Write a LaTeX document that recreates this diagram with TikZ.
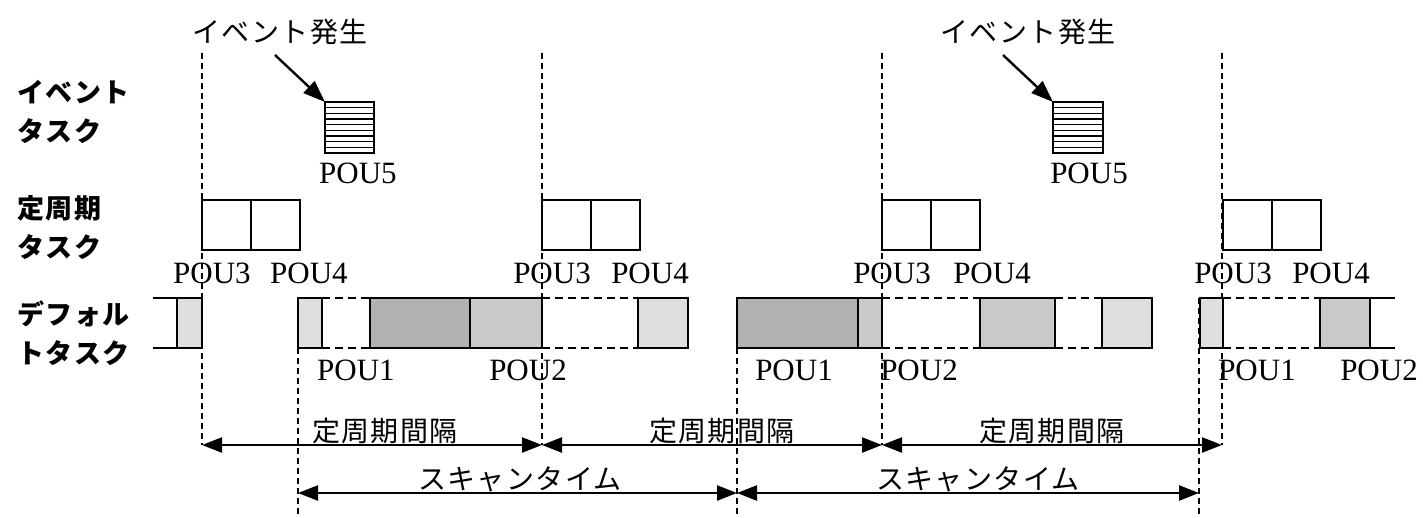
\documentclass[tikz,border=0pt]{standalone}
\usepackage{fontspec}
\newfontfamily\jp[LetterSpace=5]{Noto Sans CJK JP}
\newfontfamily\jpr[LetterSpace=6]{Noto Sans CJK JP}
\newfontfamily\pouf{Liberation Serif}
\usetikzlibrary{arrows.meta}
\tikzset{
  jtxt/.style={font=\jp\fontsize{28}{32}\selectfont},
  rowlbl/.style={font=\jpr\bfseries\fontsize{27}{31}\selectfont, anchor=west},
  pou/.style={font=\pouf\fontsize{31}{34}\selectfont},
  taskbox/.style={draw, line width=2.6pt, anchor=north west, minimum height=50pt},
  vdash/.style={line width=2.2pt, dash pattern=on 6pt off 4pt},
  rowdash/.style={line width=2.4pt, dash pattern=on 8pt off 5pt},
  rowsolid/.style={line width=2.4pt},
  dimarr/.style={line width=2.4pt, {Triangle[length=20pt,width=15pt]}-{Triangle[length=20pt,width=15pt]}},
  evarr/.style={line width=2.4pt, -{Triangle[length=22pt,width=16pt]}},
  dark/.style={fill=gray!60},
  mid/.style={fill=gray!42},
  light/.style={fill=gray!25},
}
\begin{document}
\begin{tikzpicture}[x=1pt,y=-1pt, every node/.style={inner sep=0pt, outer sep=0pt}]
\useasboundingbox (0,0) rectangle (1423,517);

% row labels
\node[rowlbl] (r1a) at (17,92) {イベント};
\node[rowlbl] (r1b) at (17,131) {タスク};
\node[rowlbl] (r2a) at (17,208) {定周期};
\node[rowlbl] (r2b) at (17,247) {タスク};
\node[rowlbl] (r3a) at (17,314) {デフォル};
\node[rowlbl] (r3b) at (17,353) {トタスク};

% vertical dashed lines (periodic)
\foreach \n/\x in {1/202,2/542,3/882,4/1222}{
  \coordinate (t\n) at (\x,53);
  \coordinate (b\n) at (\x,445);
  \draw[vdash] (t\n) -- (b\n);
}
% vertical dashed lines (scan)
\foreach \n/\x in {1/298,2/737,3/1199}{
  \coordinate (st\n) at (\x,298);
  \coordinate (sb\n) at (\x,517);
  \coordinate (sa\n) at (\x,493);
  \draw[vdash] (st\n) -- (sb\n);
}

% event tasks
\node[draw, line width=2.6pt, anchor=north west, minimum width=49pt, minimum height=51pt, fill=white] (e1) at (325,102) {};
\node[draw, line width=2.6pt, anchor=north west, minimum width=50pt, minimum height=51pt, fill=white] (e2) at (1053,102) {};
\foreach \b in {e1,e2}{
  \foreach \i in {1,...,8}{
    \draw[line width=1.5pt] ([yshift=-\i*5.67pt]\b.north west) -- ([yshift=-\i*5.67pt]\b.north east);
  }
}
\node[jtxt] (ev1) at (280,32) {イベント発生};
\node[jtxt] (ev2) at (1028,32) {イベント発生};
\coordinate (a1) at (275,55);
\coordinate (a2) at (1003,55);
\draw[evarr] (a1) -- (e1.north west);
\draw[evarr] (a2) -- (e2.north west);
\node[pou] (p5a) at (358,173) {POU5};
\node[pou] (p5b) at (1089,173) {POU5};

% periodic tasks
\foreach \n/\x in {1/202,2/542,3/882,4/1223}{
  \node[taskbox, minimum width=49pt, fill=white] (c\n a) at (\x,200) {};
  \node[taskbox, minimum width=49pt, fill=white] (c\n b) at (\x+49,200) {};
}
\foreach \n/\x/\y in {1/212/309,2/552/650,3/892/992,4/1233/1331}{
  \node[pou] (l\n a) at (\x,273) {POU3};
  \node[pou] (l\n b) at (\y,273) {POU4};
}

% default task row
\node[taskbox, light, minimum width=25pt] (d0) at (177,298) {};
\node[taskbox, light, minimum width=24pt] (d1) at (298,298) {};
\node[taskbox, dark, minimum width=100pt] (d2) at (370,298) {};
\node[taskbox, mid, minimum width=72pt] (d3) at (470,298) {};
\node[taskbox, light, minimum width=50pt] (d4) at (638,298) {};
\node[taskbox, dark, minimum width=121pt] (d5) at (737,298) {};
\node[taskbox, mid, minimum width=24pt] (d6) at (858,298) {};
\node[taskbox, mid, minimum width=75pt] (d7) at (980,298) {};
\node[taskbox, light, minimum width=50pt] (d8) at (1102,298) {};
\node[taskbox, light, minimum width=23pt] (d9) at (1200,298) {};
\node[taskbox, mid, minimum width=50pt] (d10) at (1320,298) {};

\coordinate (lt) at (153,298);
\coordinate (lb) at (153,348);
\coordinate (rt) at (1395,298);
\coordinate (rb) at (1395,348);
\draw[rowsolid] (lt) -- (d0.north west);
\draw[rowsolid] (lb) -- (d0.south west);
\draw[rowsolid] (d10.north east) -- (rt);
\draw[rowsolid] (d10.south east) -- (rb);
\foreach \p/\q in {d1/d2,d3/d4,d6/d7,d7/d8,d9/d10}{
  \draw[rowdash] (\p.north east) -- (\q.north west);
  \draw[rowdash] (\p.south east) -- (\q.south west);
}

\node[pou] (q1) at (356,370) {POU1};
\node[pou] (q2) at (528,370) {POU2};
\node[pou] (q3) at (794,370) {POU1};
\node[pou] (q4) at (919,370) {POU2};
\node[pou] (q5) at (1257,370) {POU1};
\node[pou] (q6) at (1379,370) {POU2};

% dimension arrows
\draw[dimarr] (b1) -- (b2);
\draw[dimarr] (b2) -- (b3);
\draw[dimarr] (b3) -- (b4);
\node[jtxt] (f1) at (385,431) {定周期間隔};
\node[jtxt] (f2) at (722,431) {定周期間隔};
\node[jtxt] (f3) at (1052,431) {定周期間隔};

\draw[dimarr] (sa1) -- (sa2);
\draw[dimarr] (sa2) -- (sa3);
\node[jtxt] (s1) at (520,479) {スキャンタイム};
\node[jtxt] (s2) at (978,479) {スキャンタイム};
\end{tikzpicture}
\end{document}
